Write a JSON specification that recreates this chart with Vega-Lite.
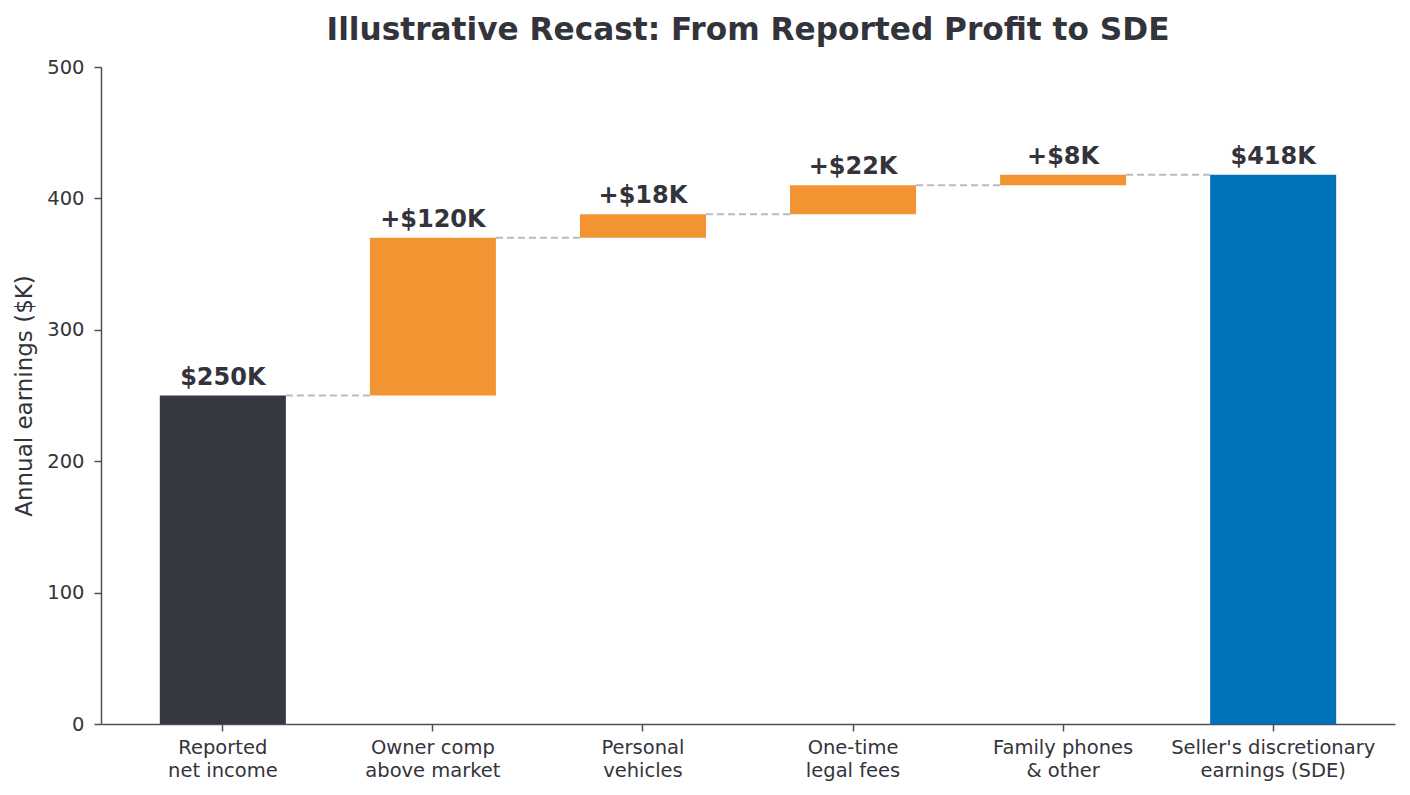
{
  "$schema": "https://vega.github.io/schema/vega-lite/v6.json",
  "width": 1294,
  "height": 657,
  "autosize": {"type": "none"},
  "padding": {"left": 101, "top": 67, "right": 15, "bottom": 71},
  "background": "white",
  "title": {
    "text": "Illustrative Recast: From Reported Profit to SDE",
    "font": "DejaVu Sans",
    "fontSize": 31.2,
    "fontWeight": "bold",
    "color": "#33343b",
    "anchor": "middle",
    "offset": 11
  },
  "config": {
    "view": {"stroke": null},
    "font": "DejaVu Sans",
    "axis": {
      "grid": false,
      "domainColor": "#4d5057",
      "domainWidth": 1.5,
      "tickColor": "#4d5057",
      "tickWidth": 1.5,
      "tickSize": 7,
      "labelColor": "#33343b",
      "titleColor": "#33343b",
      "labelFont": "DejaVu Sans",
      "titleFont": "DejaVu Sans",
      "titleFontWeight": "normal",
      "labelLimit": 0
    }
  },
  "data": {
    "values": [
      {"step": "Reported\nnet income", "start": 0, "end": 250, "kind": "base", "label": "$250K", "next": "Owner comp\nabove market"},
      {"step": "Owner comp\nabove market", "start": 250, "end": 370, "kind": "add", "label": "+$120K", "next": "Personal\nvehicles"},
      {"step": "Personal\nvehicles", "start": 370, "end": 388, "kind": "add", "label": "+$18K", "next": "One-time\nlegal fees"},
      {"step": "One-time\nlegal fees", "start": 388, "end": 410, "kind": "add", "label": "+$22K", "next": "Family phones\n& other"},
      {"step": "Family phones\n& other", "start": 410, "end": 418, "kind": "add", "label": "+$8K", "next": "Seller's discretionary\nearnings (SDE)"},
      {"step": "Seller's discretionary\nearnings (SDE)", "start": 0, "end": 418, "kind": "total", "label": "$418K", "next": null}
    ]
  },
  "encoding": {
    "x": {
      "field": "step",
      "type": "nominal",
      "sort": null,
      "scale": {"paddingInner": 0.4, "paddingOuter": 0.28},
      "axis": {
        "title": null,
        "labelAngle": 0,
        "labelFontSize": 19.5,
        "labelLineHeight": 23,
        "labelPadding": 7,
        "labelLimit": 0,
        "labelExpr": "split(datum.label, '\\n')"
      }
    }
  },
  "layer": [
    {
      "transform": [{"filter": "datum.next != null"}],
      "mark": {"type": "rule", "color": "#bbbbbb", "strokeWidth": 2, "strokeDash": [7, 4]},
      "encoding": {
        "x": {"field": "step", "type": "nominal", "sort": null, "bandPosition": 1},
        "x2": {"field": "next", "bandPosition": 0},
        "y": {"field": "end", "type": "quantitative"}
      }
    },
    {
      "mark": {"type": "bar"},
      "encoding": {
        "y": {
          "field": "start",
          "type": "quantitative",
          "scale": {"domain": [0, 500], "nice": false},
          "axis": {
            "title": "Annual earnings ($K)",
            "values": [0, 100, 200, 300, 400, 500],
            "labelFontSize": 19.5,
            "titleFontSize": 23,
            "labelPadding": 10,
            "titlePadding": 10
          }
        },
        "y2": {"field": "end"},
        "color": {
          "field": "kind",
          "type": "nominal",
          "legend": null,
          "scale": {"domain": ["base", "add", "total"], "range": ["#353840", "#f39433", "#0072bb"]}
        }
      }
    },
    {
      "mark": {"type": "text", "baseline": "bottom", "dy": -6, "fontSize": 24, "fontWeight": "bold", "color": "#33343b"},
      "encoding": {
        "y": {"field": "end", "type": "quantitative"},
        "text": {"field": "label"}
      }
    }
  ]
}
